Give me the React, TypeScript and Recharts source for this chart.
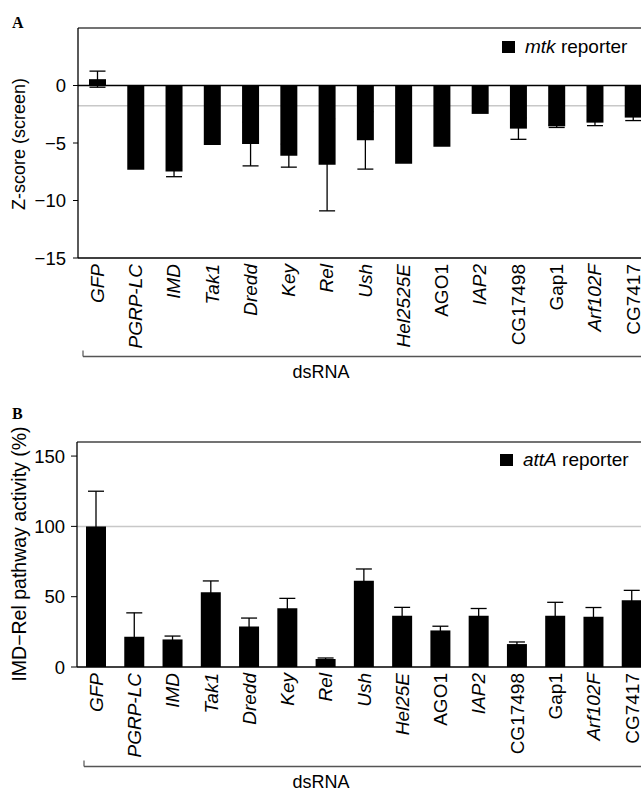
import React from 'react';
import { BarChart, Bar, XAxis, YAxis, ErrorBar, ReferenceLine, CartesianGrid } from 'recharts';

// genes screened (x axis)
const genesA = ['GFP', 'PGRP-LC', 'IMD', 'Tak1', 'Dredd', 'Key', 'Rel', 'Ush', 'Hel2525E', 'AGO1', 'IAP2', 'CG17498', 'Gap1', 'Arf102F', 'CG7417'];
const genesB = ['GFP', 'PGRP-LC', 'IMD', 'Tak1', 'Dredd', 'Key', 'Rel', 'Ush', 'Hel25E', 'AGO1', 'IAP2', 'CG17498', 'Gap1', 'Arf102F', 'CG7417'];
const italicNames = [true, true, true, true, true, true, true, true, true, false, true, false, false, true, false];

// panel A: mtk reporter z-score
const zScore = [0.55, -7.33, -7.48, -5.18, -5.09, -6.1, -6.9, -4.77, -6.8, -5.32, -2.47, -3.75, -3.55, -3.23, -2.79];
const zErr = [0.7, 0, 0.45, 0, 1.9, 1.0, 4.0, 2.5, 0, 0, 0, 0.93, 0.1, 0.26, 0.26];
const zTicks = [-15, -10, -5, 0];
const zCutoff = -1.75;

// panel B: attA reporter activity (%)
const activity = [100, 21.5, 19.6, 53.2, 28.8, 41.8, 5.7, 61.4, 36.4, 26, 36.4, 16.3, 36.4, 35.7, 47.5];
const activityErr = [25, 17, 2.4, 8, 6, 7, 0.7, 8.3, 6, 3, 5.2, 1.5, 9.6, 6.6, 7];
const activityTicks = [0, 50, 100, 150];

const font = '"Liberation Sans", Arial, Helvetica, sans-serif';

const dataA = genesA.map((g, i) => ({ name: g, value: zScore[i], err: zErr[i] }));
const dataB = genesB.map((g, i) => ({ name: g, value: activity[i], err: activityErr[i] }));

function minus(v: number) {
  return v < 0 ? '\u2212' + Math.abs(v) : String(v);
}

function GeneTick(props: any) {
  const { x, y, payload } = props;
  const idx = payload.index ?? 0;
  const ty = y - 2;
  return (
    <text
      x={x}
      y={ty}
      transform={`rotate(-90 ${x} ${ty})`}
      textAnchor="end"
      dy="0.35em"
      fontSize={19}
      fontStyle={italicNames[idx] ? 'italic' : 'normal'}
      fill="#000"
    >
      {payload.value}
    </text>
  );
}

function Bracket(props: any) {
  const { viewBox, offsetY, leftX } = props;
  const y = viewBox.y + offsetY;
  return (
    <g>
      <line x1={leftX} y1={y - 6} x2={leftX} y2={y} stroke="#555" strokeWidth={1.2} />
      <line x1={leftX} y1={y} x2={700} y2={y} stroke="#555" strokeWidth={1.5} />
      <text x={321} y={y + 21} textAnchor="middle" fontSize={18} fill="#000">dsRNA</text>
    </g>
  );
}

function AxisTitle({ text, cy, size }: { text: string; cy: number; size: number }) {
  return (
    <text
      x={19}
      y={cy}
      transform={`rotate(-90 19 ${cy})`}
      textAnchor="middle"
      dominantBaseline="central"
      fontSize={size}
      fill="#000"
    >
      {text}
    </text>
  );
}

function ReporterLegend({ name, left, top }: { name: string; left: number; top: number }) {
  return (
    <div style={{ position: 'absolute', left, top, display: 'flex', alignItems: 'center', fontFamily: font, fontSize: 19, lineHeight: '20px', color: '#000' }}>
      <span style={{ display: 'inline-block', width: 13, height: 12, background: '#000', marginRight: 10 }} />
      <span><i>{name}</i> reporter</span>
    </div>
  );
}

function PanelA() {
  return (
    <BarChart width={670} height={388} data={dataA} margin={{ top: 28, right: 18, left: 0, bottom: 0 }} barSize={17}>
      <CartesianGrid vertical={false} horizontalValues={[zCutoff]} stroke="#c8c8c8" strokeWidth={1.5} />
      <XAxis
        dataKey="name"
        interval={0}
        tickLine={false}
        axisLine={{ stroke: '#000', strokeWidth: 1.3 }}
        height={130}
        tick={<GeneTick />}
        label={{ content: (p: any) => <Bracket {...p} offsetY={98.5} leftX={83} /> }}
      />
      <YAxis
        width={78}
        domain={[-15, 5]}
        ticks={zTicks}
        tickFormatter={minus}
        tickSize={5}
        tickMargin={7}
        axisLine={{ stroke: '#000', strokeWidth: 1.3 }}
        tickLine={{ stroke: '#000' }}
        tick={{ fill: '#000', fontSize: 18.5 }}
        label={{ content: () => <AxisTitle text="Z-score (screen)" cy={144} size={18} /> }}
      />
      <ReferenceLine y={5} stroke="#444" strokeWidth={1.5} />
      <Bar dataKey="value" fill="#000" isAnimationActive={false}>
        <ErrorBar dataKey="err" width={8} stroke="#000" strokeWidth={1.3} />
      </Bar>
      <ReferenceLine y={0} stroke="#000" strokeWidth={1.3} />
    </BarChart>
  );
}

function PanelB() {
  return (
    <BarChart width={670} height={403} data={dataB} margin={{ top: 54, right: 19, left: 0, bottom: 0 }} barSize={20}>
      <CartesianGrid vertical={false} horizontalValues={[100]} stroke="#c8c8c8" strokeWidth={1.5} />
      <XAxis
        dataKey="name"
        interval={0}
        tickLine={false}
        axisLine={{ stroke: '#000', strokeWidth: 1.3 }}
        height={124}
        tick={<GeneTick />}
        label={{ content: (p: any) => <Bracket {...p} offsetY={99.5} leftX={84} /> }}
      />
      <YAxis
        width={77}
        domain={[0, 160]}
        ticks={activityTicks}
        tickSize={6}
        tickMargin={6}
        axisLine={{ stroke: '#000', strokeWidth: 1.3 }}
        tickLine={{ stroke: '#000' }}
        tick={{ fill: '#000', fontSize: 18.5 }}
        label={{ content: () => <AxisTitle text="IMD−Rel pathway activity (%)" cy={166} size={19.5} /> }}
      />
      <ReferenceLine y={160} stroke="#444" strokeWidth={1.5} />
      <Bar dataKey="value" fill="#000" isAnimationActive={false}>
        <ErrorBar dataKey="err" width={8} stroke="#000" strokeWidth={1.3} />
      </Bar>
    </BarChart>
  );
}

export default function App() {
  const panelLetter: React.CSSProperties = {
    position: 'absolute',
    left: 12,
    fontFamily: '"Liberation Serif", "Times New Roman", serif',
    fontWeight: 'bold',
    fontSize: 16,
    lineHeight: '16px',
  };
  return (
    <div style={{ position: 'absolute', left: 0, top: 0, width: 641, height: 791, overflow: 'hidden', background: '#fff', fontFamily: font }}>
      <div style={{ position: 'absolute', left: 0, top: 0 }}>
        <PanelA />
      </div>
      <div style={{ position: 'absolute', left: 0, top: 388 }}>
        <PanelB />
      </div>
      <ReporterLegend name="mtk" left={502} top={37} />
      <ReporterLegend name="attA" left={500} top={450} />
      <div style={{ ...panelLetter, top: 15 }}>A</div>
      <div style={{ ...panelLetter, top: 406 }}>B</div>
    </div>
  );
}
